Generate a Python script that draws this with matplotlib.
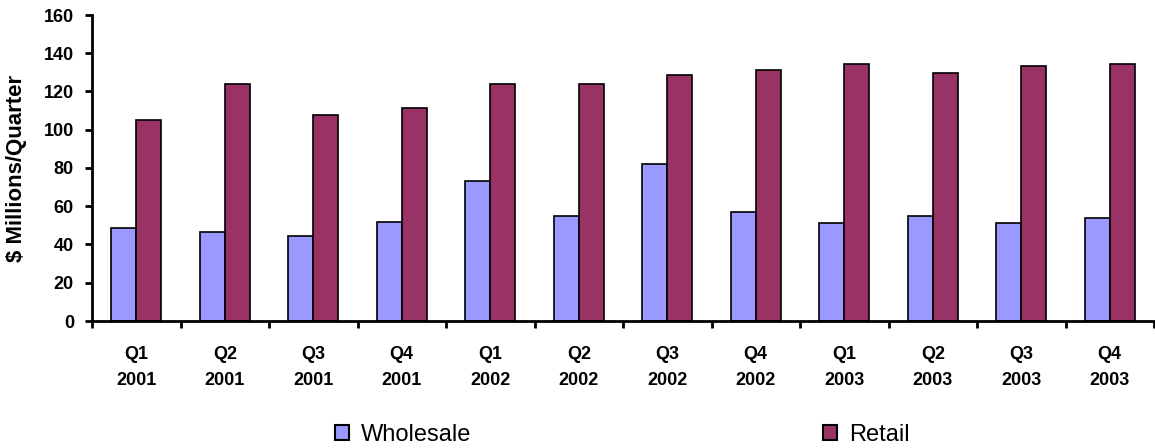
import matplotlib
matplotlib.use("Agg")
import matplotlib.pyplot as plt
import numpy as np

plt.rcParams['font.family'] = ['Liberation Sans', 'DejaVu Sans']

categories = ["Q1\n2001", "Q2\n2001", "Q3\n2001", "Q4\n2001",
              "Q1\n2002", "Q2\n2002", "Q3\n2002", "Q4\n2002",
              "Q1\n2003", "Q2\n2003", "Q3\n2003", "Q4\n2003"]
wholesale = [48.5, 46.5, 44.5, 52, 73, 55, 82, 57, 51, 55, 51, 54]
retail = [105, 124, 107.5, 111.5, 124, 124, 128.5, 131.5, 134.5, 129.5, 133.5, 134.5]
y_ticks = [0, 20, 40, 60, 80, 100, 120, 140, 160]

fig = plt.figure(figsize=(11.55, 4.48), dpi=100)
ax = fig.add_axes([92/1155, 1-321/448, 1062/1155, 306/448])

x = np.arange(len(categories))
w = 0.283
c_w = '#9999FF'
c_r = '#993366'
b1 = ax.bar(x - w/2, wholesale, w, color=c_w, edgecolor='black', linewidth=1.2, label='Wholesale')
b2 = ax.bar(x + w/2, retail, w, color=c_r, edgecolor='black', linewidth=1.2, label='Retail')

ax.set_xlim(-0.5, len(categories) - 0.5)
ax.set_ylim(0, 160)
ax.set_yticks(y_ticks)
ax.set_yticklabels([str(v) for v in y_ticks], fontsize=13, fontweight='bold')
ax.set_xticks(np.arange(len(categories) + 1) - 0.5)
ax.set_xticklabels([])
ax.set_xticks(x, minor=True)
ax.set_xticklabels(categories, minor=True, fontsize=13, fontweight='bold', linespacing=1.7)
ax.tick_params(axis='x', which='minor', length=0, pad=18)
ax.tick_params(axis='x', which='major', length=5, width=2, direction='out')
ax.tick_params(axis='y', which='major', length=5, width=2, direction='out', pad=8)

for s in ['top', 'right']:
    ax.spines[s].set_visible(False)
for s in ['left', 'bottom']:
    ax.spines[s].set_linewidth(2)

ax.set_ylabel('$ Millions/Quarter', fontsize=16, fontweight='bold', va='center')
ax.yaxis.set_label_coords(-(92 - 17) / 1062, 0.5)

leg_kw = dict(frameon=False, fontsize=17, handlelength=0.59, handleheight=0.59,
              handletextpad=0.5, borderpad=0, borderaxespad=0)
l1 = fig.legend([b1], ['Wholesale'], loc='center left', bbox_to_anchor=(335/1155, 1-435/448), **leg_kw)
l2 = fig.legend([b2], ['Retail'], loc='center left', bbox_to_anchor=(823/1155, 1-435/448), **leg_kw)
for lg in (l1, l2):
    for p in lg.get_patches():
        p.set_linewidth(1.5)

fig.savefig('out.png', dpi=100)
